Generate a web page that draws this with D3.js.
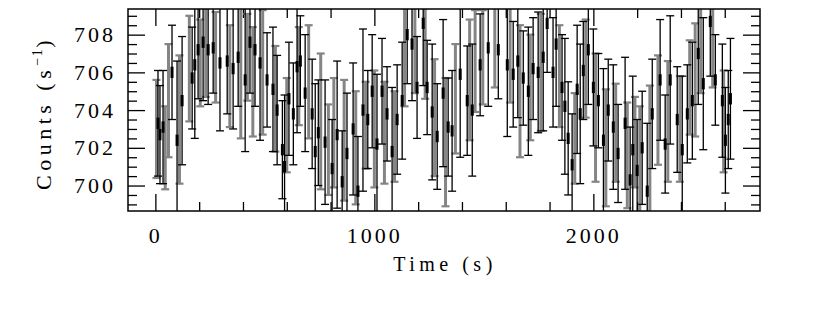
<!DOCTYPE html>
<html>
<head>
<meta charset="utf-8">
<script src="https://cdn.jsdelivr.net/npm/d3@7"></script>
<style>
  body { margin: 0; background: #fff; }
  #chart { width: 830px; height: 311px; }
  text { font-family: "Liberation Serif", "DejaVu Serif", serif; fill: #000; }
</style>
</head>
<body>
<div id="chart"></div>
<script>
// light curve, black points (thin bars) and grey points (thick bars)
const blackTime = [
  12, 21, 35, 76, 99, 122, 168, 180, 195, 218,
  241, 264, 295, 328, 355, 378, 410, 432, 455, 478,
  510, 537, 556, 580, 590, 610, 630, 647, 662, 684,
  716, 730, 744, 775, 807, 830, 853, 875, 903, 925,
  948, 970, 990, 1012, 1035, 1058, 1081, 1104, 1127, 1150,
  1172, 1195, 1223, 1241, 1264, 1287, 1314, 1337, 1355, 1392,
  1424, 1447, 1483, 1520, 1566, 1607, 1634, 1655, 1680, 1703,
  1725, 1748, 1771, 1789, 1816, 1830, 1857, 1870, 1885, 1903,
  1926, 1940, 1954, 1977, 2000, 2023, 2046, 2068, 2091, 2113,
  2145, 2168, 2180, 2200, 2223, 2246, 2269, 2305, 2328, 2351,
  2383, 2406, 2429, 2452, 2479, 2502, 2534, 2557, 2589, 2603,
  2616, 2626
];
const blackRate = [
  703.3, 702.7, 703.1, 706.0, 702.4, 704.5, 705.7, 706.4, 707.2, 707.6,
  707.2, 707.3, 706.5, 706.6, 706.2, 706.8, 705.6, 707.6, 707.2, 706.5,
  705.6, 705.1, 704.0, 701.9, 701.0, 704.6, 703.8, 706.3, 706.6, 704.9,
  703.8, 701.8, 702.8, 702.3, 700.9, 702.7, 700.2, 701.7, 703.0, 699.7,
  704.0, 703.5, 705.0, 702.2, 705.0, 703.8, 701.8, 703.5, 704.5, 708.0,
  707.5, 705.2, 708.6, 705.2, 703.9, 702.6, 704.9, 703.1, 702.9, 705.9,
  704.5, 704.0, 706.4, 707.3, 707.2, 706.4, 705.9, 706.6, 705.7, 705.0,
  706.2, 706.0, 706.8, 708.6, 706.0, 707.5, 705.2, 704.2, 702.5, 701.1,
  705.1, 703.8, 706.1, 707.2, 705.2, 704.5, 702.4, 704.0, 703.1, 701.7,
  703.3, 700.3, 701.9, 700.8, 702.0, 699.7, 703.8, 705.6, 702.2, 705.6,
  703.5, 701.9, 703.8, 704.5, 707.0, 705.4, 708.7, 705.6, 704.5, 702.4,
  703.5, 704.6
];
const blackErr = [
  2.8, 2.6, 3.0, 2.5, 4.2, 3.4, 2.7, 3.9, 2.6, 3.1,
  2.9, 2.4, 3.6, 2.8, 3.2, 2.6, 3.8, 2.7, 3.0, 4.1,
  2.5, 3.3, 2.9, 2.6, 3.8, 3.0, 2.7, 3.5, 2.4, 3.1,
  2.9, 3.6, 2.8, 3.3, 2.6, 3.9, 2.7, 3.2, 3.5, 2.9,
  4.3, 2.6, 3.0, 3.7, 2.8, 2.5, 3.4, 2.9, 3.1, 2.6,
  3.0, 2.7, 3.3, 2.5, 3.6, 2.8, 3.9, 2.6, 3.2, 4.4,
  2.9, 3.5, 2.7, 3.1, 2.6, 3.8, 2.8, 3.0, 2.5, 3.4,
  2.7, 3.2, 3.9, 2.6, 2.9, 3.3, 2.8, 3.6, 3.0, 2.7,
  3.4, 3.7, 2.6, 2.9, 3.1, 2.5, 3.8, 2.7, 3.3, 2.6,
  3.5, 2.8, 3.9, 2.7, 3.0, 3.6, 2.9, 3.2, 2.6, 3.4,
  2.8, 3.9, 2.6, 3.1, 2.7, 3.5, 2.9, 2.4, 3.0, 2.8,
  2.6, 3.2
];

const greyTime = [
  5, 45, 60, 110, 155, 205, 230, 275, 340, 390,
  420, 445, 490, 548, 600, 655, 700, 755, 790, 815,
  862, 915, 960, 1000, 1046, 1092, 1138, 1185, 1232, 1275,
  1325, 1370, 1435, 1460, 1495, 1550, 1620, 1665, 1712, 1760,
  1845, 1915, 1965, 2010, 2057, 2102, 2155, 2190, 2212, 2258,
  2295, 2340, 2395, 2440, 2465, 2490, 2545, 2595
];
const greyRate = [
  703.0, 702.0, 704.5, 703.5, 706.2, 706.5, 707.8, 706.8, 705.8, 706.0,
  706.8, 705.5, 706.0, 704.6, 703.2, 705.8, 705.5, 703.4, 701.9, 702.8,
  702.4, 702.0, 703.2, 703.0, 702.8, 702.6, 706.8, 707.4, 707.0, 703.6,
  702.3, 704.6, 705.6, 706.6, 706.8, 707.6, 707.0, 705.0, 705.2, 706.0,
  705.8, 702.5, 706.2, 703.6, 702.0, 702.8, 701.6, 702.3, 701.2, 701.8,
  704.0, 703.4, 703.0, 705.2, 705.6, 707.5, 707.6, 703.4
];
const greyErr = [
  2.6, 2.2, 3.0, 3.4, 2.8, 2.3, 3.1, 2.4, 2.7, 3.5,
  2.3, 2.9, 3.3, 2.8, 2.5, 2.6, 3.0, 3.6, 2.4, 2.9,
  3.2, 3.0, 2.3, 3.1, 2.7, 2.4, 2.6, 2.5, 2.4, 3.1,
  3.4, 2.9, 3.2, 2.7, 2.5, 2.4, 2.6, 3.5, 2.8, 3.1,
  2.7, 2.4, 2.6, 3.4, 3.1, 2.6, 2.8, 2.4, 3.0, 3.5,
  2.9, 3.2, 2.8, 2.5, 3.0, 2.6, 2.4, 2.7
];

const xMajor = [0, 1000, 2000];
const yMajor = [700, 702, 704, 706, 708];

startChart("chart");

function startChart(idNode) {
  const width = 830;
  const height = 311;
  const frame = { left: 128, right: 760, top: 9, bottom: 211 };

  const svg = d3
    .select("#" + idNode)
    .append("svg")
    .attr("width", width)
    .attr("height", height);

  const scaleX = d3.scaleLinear().domain([-125, 2761]).range([frame.left, frame.right]);
  const scaleY = d3.scaleLinear().domain([698.65, 709.36]).range([frame.bottom, frame.top]);

  createAxes(svg, scaleX, scaleY, frame);
  createChart(svg, scaleX, scaleY, frame);

  svg
    .append("rect")
    .attr("x", frame.left)
    .attr("y", frame.top)
    .attr("width", frame.right - frame.left)
    .attr("height", frame.bottom - frame.top)
    .style("fill", "none")
    .style("stroke", "#000")
    .style("stroke-width", 1.5);

  svg
    .append("text")
    .attr("x", 445)
    .attr("y", 271)
    .attr("text-anchor", "middle")
    .style("font-size", "20px")
    .style("letter-spacing", "4.5px")
    .text("Time (s)");

  const yLabel = svg
    .append("text")
    .attr("transform", "translate(51,113) rotate(-90)")
    .attr("text-anchor", "middle")
    .style("font-size", "22px")
    .style("letter-spacing", "4.5px");
  yLabel.append("tspan").text("Counts (s");
  yLabel.append("tspan").attr("dy", -9).style("font-size", "14px").style("letter-spacing", "1.5px").text("−1");
  yLabel.append("tspan").attr("dy", 9).text(")");
}

function createAxes(svg, scaleX, scaleY, frame) {
  const xMinor = d3.range(0, 2761, 200).filter((v) => !xMajor.includes(v));
  const yMinor = d3.range(699, 709.4, 0.5).filter((v) => !yMajor.includes(v));

  const axes = [
    { axis: d3.axisBottom(scaleX), pos: `translate(0,${frame.bottom})`, major: xMajor, minor: xMinor, label: true, pad: 16 },
    { axis: d3.axisTop(scaleX), pos: `translate(0,${frame.top})`, major: xMajor, minor: xMinor, label: false },
    { axis: d3.axisLeft(scaleY), pos: `translate(${frame.left},0)`, major: yMajor, minor: yMinor, label: true, pad: 12 },
    { axis: d3.axisRight(scaleY), pos: `translate(${frame.right},0)`, major: yMajor, minor: yMinor, label: false },
  ];

  axes.forEach((a) => {
    const major = svg
      .append("g")
      .attr("transform", a.pos)
      .call(
        a.axis
          .tickValues(a.major)
          .tickSize(-17)
          .tickPadding(a.pad || 0)
          .tickFormat(a.label ? d3.format("d") : "")
      );
    major.select(".domain").remove();
    major.selectAll("line").style("stroke", "#000").style("stroke-width", 1.3);
    major
      .selectAll("text")
      .style("font-size", "22px")
      .style("letter-spacing", "3px")
      .attr("font-family", null);

    const minor = svg
      .append("g")
      .attr("transform", a.pos)
      .call(a.axis.tickValues(a.minor).tickSize(-9).tickFormat(""));
    minor.select(".domain").remove();
    minor.selectAll("line").style("stroke", "#000").style("stroke-width", 1.3);
  });
}

function createChart(svg, scaleX, scaleY, frame) {
  svg
    .append("clipPath")
    .attr("id", "plot-clip")
    .append("rect")
    .attr("x", frame.left)
    .attr("y", frame.top)
    .attr("width", frame.right - frame.left)
    .attr("height", frame.bottom - frame.top);

  const plot = svg.append("g").attr("clip-path", "url(#plot-clip)");

  const grey = greyTime.map((t, i) => ({ t: t, v: greyRate[i], e: greyErr[i] }));
  const black = blackTime.map((t, i) => ({ t: t, v: blackRate[i], e: blackErr[i] }));

  drawBars(plot, grey, scaleX, scaleY, "#858585", 3, 2.2);
  drawBars(plot, black, scaleX, scaleY, "#000", 1.3, 1.3);

  plot
    .selectAll(".mark")
    .data(black)
    .enter()
    .append("line")
    .attr("class", "mark")
    .attr("x1", (d) => scaleX(d.t))
    .attr("x2", (d) => scaleX(d.t))
    .attr("y1", (d) => scaleY(d.v + 0.3))
    .attr("y2", (d) => scaleY(d.v - 0.3))
    .style("stroke", "#000")
    .style("stroke-width", 3);
}

function drawBars(plot, data, scaleX, scaleY, color, width, capWidth) {
  const capHalf = 4;
  const g = plot.append("g").style("stroke", color);

  const bar = g.selectAll("g").data(data).enter().append("g");

  bar
    .append("line")
    .attr("x1", (d) => scaleX(d.t))
    .attr("x2", (d) => scaleX(d.t))
    .attr("y1", (d) => scaleY(d.v + d.e))
    .attr("y2", (d) => scaleY(d.v - d.e))
    .style("stroke-width", width);

  [1, -1].forEach((s) => {
    bar
      .append("line")
      .attr("x1", (d) => scaleX(d.t) - capHalf)
      .attr("x2", (d) => scaleX(d.t) + capHalf)
      .attr("y1", (d) => scaleY(d.v + s * d.e))
      .attr("y2", (d) => scaleY(d.v + s * d.e))
      .style("stroke-width", capWidth);
  });
}
</script>
</body>
</html>
